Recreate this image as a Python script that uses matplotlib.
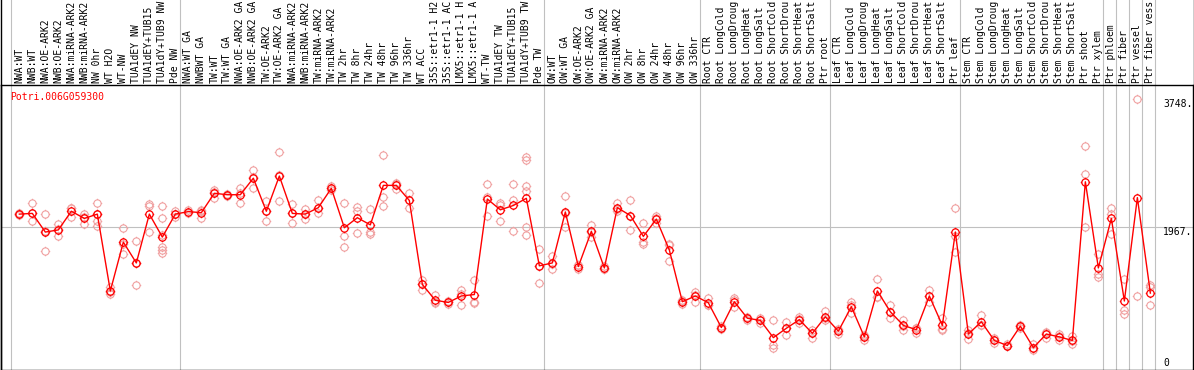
import matplotlib
matplotlib.use("Agg")
import matplotlib.pyplot as plt
from matplotlib.path import Path
from matplotlib.lines import Line2D

gene = "Potri.006G059300"

samples = [
    "NWA:WT", "NWB:WT", "NWA:OE-ARK2", "NWB:OE-ARK2", "NWA:miRNA-ARK2", "NWB:miRNA-ARK2",
    "NW 0hr", "WT H2O", "WT-NW", "TUA1dEY NW", "TUA1dEY+TUB15 NW", "TUA1dY+TUB9 NW", "Pde NW",
    "NWA:WT GA", "NWBWT GA", "TW:WT", "TW:WT GA", "NWA:OE-ARK2 GA", "NWB:OE-ARK2 GA",
    "TW:OE-ARK2", "TW:OE-ARK2 GA", "NWA:miRNA-ARK2", "NWB:miRNA-ARK2", "TW:miRNA-ARK2",
    "TW:miRNA-ARK2", "TW 2hr", "TW 8hr", "TW 24hr", "TW 48hr", "TW 96hr", "TW 336hr",
    "WT ACC", "35S::etr1-1 H2O", "35S::etr1-1 ACC", "LMX5::etr1-1 H2O", "LMX5::etr1-1 ACC",
    "WT-TW", "TUA1dEY TW", "TUA1dEY+TUB15 TW", "TUA1dY+TUB9 TW", "Pde TW",
    "OW:WT", "OW:WT GA", "OW:OE-ARK2", "OW:OE-ARK2 GA", "OW:miRNA-ARK2", "OW:miRNA-ARK2",
    "OW 2hr", "OW 8hr", "OW 24hr", "OW 48hr", "OW 96hr", "OW 336hr",
    "Root CTR", "Root LongCold", "Root LongDrought", "Root LongHeat", "Root LongSalt",
    "Root ShortCold", "Root ShortDrought", "Root ShortHeat", "Root ShortSalt", "Ptr root",
    "Leaf CTR", "Leaf LongCold", "Leaf LongDrought", "Leaf LongHeat", "Leaf LongSalt",
    "Leaf ShortCold", "Leaf ShortDrought", "Leaf ShortHeat", "Leaf ShortSalt", "Ptr leaf",
    "Stem CTR", "Stem LongCold", "Stem LongDrought", "Stem LongHeat", "Stem LongSalt",
    "Stem ShortCold", "Stem ShortDrought", "Stem ShortHeat", "Stem ShortSalt", "Ptr shoot",
    "Ptr xylem", "Ptr phloem", "Ptr fiber", "Ptr vessel", "Ptr fiber vessel",
]

means = [
    2150, 2160, 1900, 1930, 2190, 2090, 2150, 1080, 1760, 1470, 2150, 1830, 2150,
    2185, 2170, 2440, 2420, 2420, 2650, 2190, 2680, 2160, 2150, 2240, 2510, 1960,
    2100, 2000, 2550, 2550, 2340, 1170, 950, 920, 1010, 1030, 2360, 2210, 2270,
    2370, 1430,
    1470, 2180, 1420, 1910, 1400, 2240, 2130, 1840, 2080, 1650, 930, 1010,
    915, 570, 930, 700, 670, 430, 560, 680, 490, 720,
    520, 860, 440, 1080, 790, 600, 540, 1010, 600, 1900,
    480, 650, 390, 320, 590, 290, 480, 440, 390, 2600, 1400,
    2090, 940, 2380, 1050,
]

replicates = [
    [2170, 2140, 2150], [2300, 2060, 2160], [2150, 1630, 1920], [2010, 1840, 1940],
    [2230, 2110, 2230], [2110, 2010, 2150], [2300, 2050, 1980, 2150], [1140, 1040, 1070],
    [1960, 1590, 1740], [1770, 1160, 1470], [2290, 1900, 2260],
    [2260, 2100, 1860, 1690, 1650, 1610], [2190, 2110, 2150],
    [2210, 2170], [2210, 2100, 2200], [2480, 2380, 2460], [2430, 2400, 2420],
    [2510, 2310, 2440], [2760, 2520, 2670], [2330, 2050, 2190], [3020, 2330, 2690],
    [2290, 2020, 2170], [2220, 2080, 2150], [2340, 2160, 2230], [2540, 2480, 2510],
    [2300, 1850, 1690], [2250, 2190, 1890], [2220, 1900, 1870], [2980, 2390, 2260],
    [2580, 2500, 2570], [2450, 2230, 2340], [1230, 1100, 1170], [1030, 910, 920],
    [940, 900, 920], [1100, 880, 1040], [1230, 930, 910], [2570, 2390, 2120],
    [2310, 2050, 2270], [2570, 2340, 1910], [2940, 2900, 2540, 2470, 1970, 1860],
    [1670, 1190, 1430],
    [1570, 1390, 1450], [2400, 1970, 2170], [1440, 1380, 1440], [2000, 1830, 1900],
    [1430, 1380, 1390], [2310, 2190, 2220], [2340, 1930, 2130], [2020, 1760, 1740],
    [2120, 2020, 2100], [1740, 1500, 1720], [950, 900, 940], [1070, 930, 1030],
    [980, 880, 890], [590, 550, 570], [980, 860, 950], [720, 680, 700], [710, 630, 670],
    [670, 330, 280], [650, 470, 560], [720, 630, 690], [540, 420, 500], [800, 670, 700],
    [550, 480, 530], [920, 770, 890], [470, 400, 450], [1240, 1000, 1000],
    [880, 700, 790], [680, 530, 590], [570, 490, 560], [1090, 930, 1010],
    [710, 540, 550], [2240, 1840, 1620],
    [500, 410, 530], [740, 610, 610], [420, 350, 400], [340, 310, 310], [610, 570, 590],
    [340, 260, 280], [490, 430, 510], [480, 390, 450], [450, 340, 380],
    [3100, 2710, 1970], [1600, 1320, 1280],
    [2240, 2150, 1870], [1250, 810, 760], [3748, 1010], [1160, 1130, 890],
]

# last sample index of each group (separator drawn just after it)
group_ends = [-1, 12, 40, 52, 62, 72, 83, 84, 85, 86, 87]

ymax_val = max(max(r) for r in replicates)
mid_val = ymax_val * 1.05 / 2

# circle marker with small ticks, like the bitmap original
circ = Path.unit_circle()
ticks = Path([(0, 1), (0, 1.3), (0, -1), (0, -1.3), (1, 0), (1.3, 0), (-1, 0), (-1.3, 0)],
             [Path.MOVETO, Path.LINETO] * 4)
mk = Path.make_compound_path(circ, ticks)

mono = "DejaVu Sans Mono"
fs = 7.0
W, H = 1194, 370
fig = plt.figure(figsize=(W / 100, H / 100), dpi=100)
ax = fig.add_axes([1 / W, 0.5 / H, 1192 / W, 284.5 / H])

x = list(range(len(samples)))
xs, ys = [], []
for i, r in enumerate(replicates):
    xs += [i] * len(r)
    ys += r

ax.axhline(mid_val, color="#c0c0c0", lw=0.8, zorder=0)
for g in group_ends:
    ax.axvline(g + 0.38, ymin=0, ymax=370 / 284.5, color="#c0c0c0", lw=0.8,
               clip_on=False, zorder=0)

ax.plot(xs, ys, ls="none", marker=mk, ms=6.8, mec="#f0a0a0", mfc="none", mew=0.8, zorder=2)
ax.plot(x, means, color="red", lw=1.0, marker=mk, ms=6.8, mec="red", mfc="none",
        mew=0.9, zorder=3)

ax.set_xlim(-1.41, 90.28)
ax.set_ylim(-14, 3948)
ax.set_xticks([])
ax.set_yticks([])
for s in ax.spines.values():
    s.set_color("black")
    s.set_linewidth(1.0)

# sample names, cut to the 14 characters that fit in the label strip
xtr = ax.get_xaxis_transform()
for i, name in enumerate(samples):
    ax.text(i, 1 + 2 / 284.5, name[:14], transform=xtr, rotation=90, ha="center",
            va="bottom", fontsize=fs, family=mono, color="black", clip_on=False)

ax.text(9 / 1192, 1 - 7 / 284.5, gene, transform=ax.transAxes, ha="left", va="top",
        fontsize=fs, family=mono, color="red")

ytr = ax.get_yaxis_transform()
rx = (1163 - 1) / 1192
ax.text(rx, ymax_val, "%d." % ymax_val, transform=ytr, ha="left", va="top",
        fontsize=fs, family=mono)
ax.text(rx, mid_val, "%d." % int(mid_val), transform=ytr, ha="left", va="top",
        fontsize=fs, family=mono)
ax.text(rx, 0, "0", transform=ytr, ha="left", va="bottom", fontsize=fs, family=mono)

# outer frame lines running up through the label strip
fig.add_artist(Line2D([0.5 / W, 0.5 / W], [0, 1], color="black", lw=1.0))
fig.add_artist(Line2D([1 - 0.5 / W, 1 - 0.5 / W], [0, 1], color="black", lw=1.0))

fig.savefig("out.png", dpi=100)
